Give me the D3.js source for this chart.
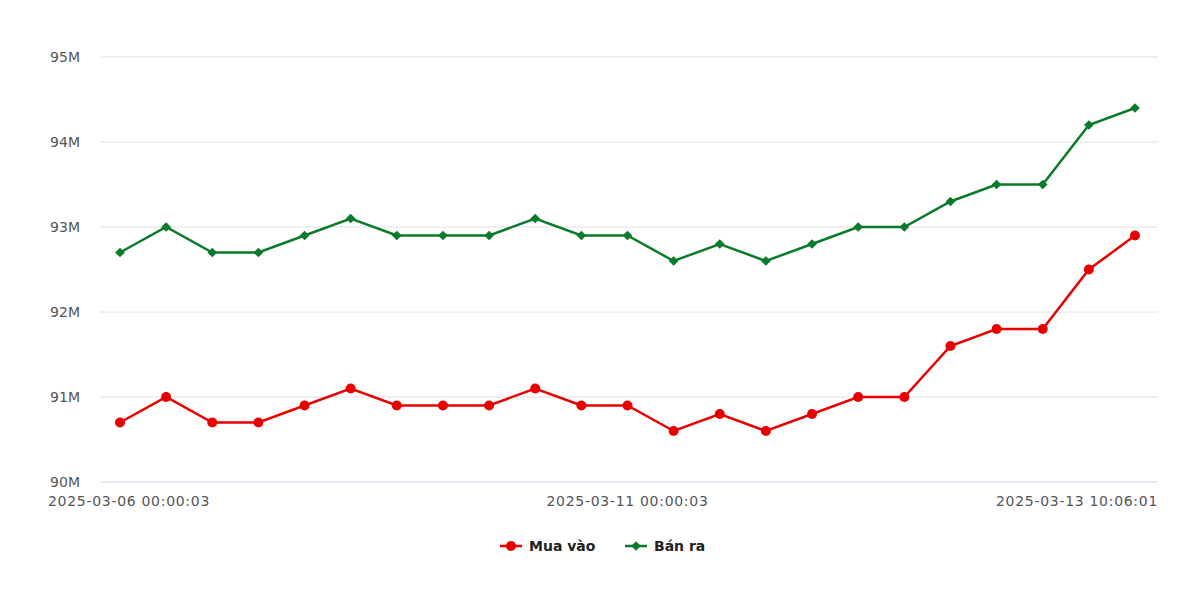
<!DOCTYPE html>
<html><head><meta charset="utf-8">
<script src="https://cdn.jsdelivr.net/npm/d3@7"></script>
<style>body{margin:0;background:#fff}svg{display:block}</style>
</head><body>
<script>
const categories = ["2025-03-06 00:00:03","p1","p2","p3","p4","p5","p6","p7","p8","p9","p10","2025-03-11 00:00:03","p12","p13","p14","p15","p16","p17","p18","p19","p20","p21","2025-03-13 10:06:01"];
const tickLabels = ["2025-03-06 00:00:03","2025-03-11 00:00:03","2025-03-13 10:06:01"];
const muaVao = [90.7,91.0,90.7,90.7,90.9,91.1,90.9,90.9,90.9,91.1,90.9,90.9,90.6,90.8,90.6,90.8,91.0,91.0,91.6,91.8,91.8,92.5,92.9];
const banRa  = [92.7,93.0,92.7,92.7,92.9,93.1,92.9,92.9,92.9,93.1,92.9,92.9,92.6,92.8,92.6,92.8,93.0,93.0,93.3,93.5,93.5,94.2,94.4];
const yTicks = [90,91,92,93,94,95];

const W=1200,H=590;
const svg=d3.select("body").append("svg").attr("width",W).attr("height",H);
const font="DejaVu Sans, Verdana, sans-serif";
const x=d3.scalePoint().domain(d3.range(categories.length)).range([120,1135]);
const y=d3.scaleLinear().domain([90,95]).range([482,57]);

// grid
svg.append("g").selectAll("line").data(yTicks.filter(d=>d!==90)).join("line")
 .attr("x1",100).attr("x2",1158).attr("y1",d=>y(d)).attr("y2",d=>y(d))
 .attr("stroke","#e0e0e0").attr("stroke-width",1);
svg.append("line").attr("x1",100).attr("x2",1158).attr("y1",y(90)).attr("y2",y(90))
 .attr("stroke","#ccd6eb").attr("stroke-width",1);

// y labels
svg.append("g").selectAll("text").data(yTicks).join("text")
 .attr("x",80).attr("y",d=>y(d)+5).attr("text-anchor","end")
 .attr("font-family",font).attr("font-size",14).attr("fill","#555")
 .text(d=>d+"M");

// x labels
const xl=[{i:0,a:"start",dx:-72},{i:11,a:"middle",dx:0},{i:22,a:"end",dx:23}];
svg.append("g").selectAll("text").data(xl).join("text")
 .attr("x",d=>x(d.i)+d.dx).attr("y",506).attr("text-anchor",d=>d.a)
 .attr("font-family",font).attr("font-size",14).attr("letter-spacing","0.7px").attr("fill","#555")
 .text(d=>categories[d.i]);

const red="#e80000", green="#0b7a2b";
const line=d3.line().x((d,i)=>x(i)).y(d=>y(d));
svg.append("path").datum(banRa).attr("d",line).attr("fill","none").attr("stroke",green).attr("stroke-width",2.5);
svg.append("path").datum(muaVao).attr("d",line).attr("fill","none").attr("stroke",red).attr("stroke-width",2.5);
const diamond=d3.symbol().type(d3.symbolDiamond2).size(60);
svg.append("g").selectAll("path").data(banRa).join("path")
 .attr("d",diamond).attr("transform",(d,i)=>`translate(${x(i)},${y(d)})`).attr("fill",green);
svg.append("g").selectAll("circle").data(muaVao).join("circle")
 .attr("cx",(d,i)=>x(i)).attr("cy",d=>y(d)).attr("r",5).attr("fill",red);

// legend
const lg=svg.append("g");
const items=[{n:"Mua vào",c:red,t:"c",x:500},{n:"Bán ra",c:green,t:"d",x:625}];
items.forEach(it=>{
  lg.append("line").attr("x1",it.x).attr("x2",it.x+22).attr("y1",546).attr("y2",546).attr("stroke",it.c).attr("stroke-width",2.5);
  if(it.t==="c") lg.append("circle").attr("cx",it.x+11).attr("cy",546).attr("r",5).attr("fill",it.c);
  else lg.append("path").attr("d",diamond).attr("transform",`translate(${it.x+11},546)`).attr("fill",it.c);
  lg.append("text").attr("x",it.x+29).attr("y",551).attr("font-family",font).attr("font-size",14).attr("font-weight","bold").attr("fill","#222").text(it.n);
});
</script>
</body></html>
